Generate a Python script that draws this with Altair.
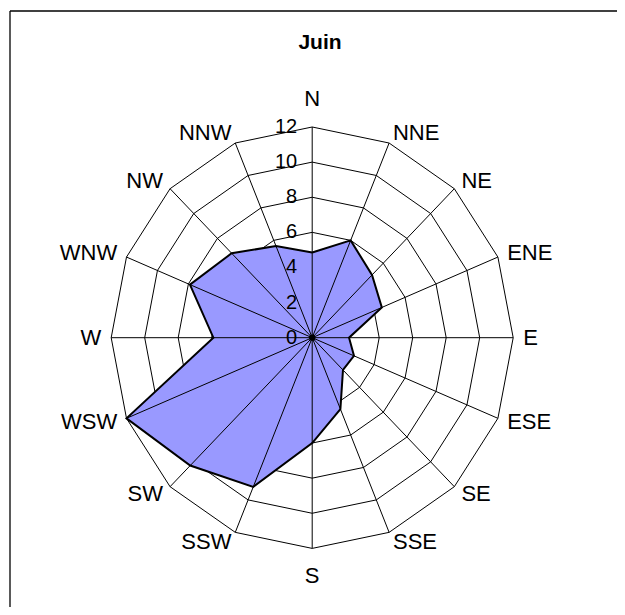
import altair as alt
import pandas as pd

# ---- data ----
directions = ["N", "NNE", "NE", "ENE", "E", "ESE", "SE", "SSE",
              "S", "SSW", "SW", "WSW", "W", "WNW", "NW", "NNW"]
values = [4.85, 6.0, 5.05, 4.5, 2.2, 2.7, 2.6, 4.4,
          6.0, 9.2, 10.3, 12.0, 5.9, 7.9, 6.8, 5.65]
ring_levels = [2, 4, 6, 8, 10, 12]
tick_values = [0, 2, 4, 6, 8, 10, 12]
tick_labels = ["0", "2", "4", "6", "8", "10", "12"]
title_text = "Juin"

FONT = "Liberation Sans"
n = len(directions)
rmax = max(ring_levels)

poly_df = pd.DataFrame({"i": list(range(n + 1)),
                        "r": [values[k % n] for k in range(n + 1)]})
ring_df = pd.DataFrame([{"level": lv, "i": k} for lv in ring_levels for k in range(n + 1)])
spoke_df = pd.DataFrame({"i": list(range(n)), "dir": directions})
tick_df = pd.DataFrame({"v": tick_values, "lab": tick_labels})

xs = alt.Scale(domain=[-18.161, 18.197], nice=False, zero=False)
ys = alt.Scale(domain=[-15.338, 18.777], nice=False, zero=False)
TH = "datum.i * PI / 8"

rings = alt.Chart(ring_df).transform_calculate(
    x=f"datum.level * sin({TH})", y=f"datum.level * cos({TH})"
).mark_line(color="black", strokeWidth=1).encode(
    x=alt.X("x:Q", scale=xs, axis=None),
    y=alt.Y("y:Q", scale=ys, axis=None),
    detail="level:N",
    order="i:Q",
)

poly_base = alt.Chart(poly_df).transform_calculate(
    x=f"datum.r * sin({TH})", y=f"datum.r * cos({TH})"
)
poly_fill = poly_base.mark_line(fill="#9999FF", stroke=None, strokeWidth=0).encode(
    x=alt.X("x:Q", scale=xs, axis=None),
    y=alt.Y("y:Q", scale=ys, axis=None),
    order="i:Q",
)
poly_line = poly_base.mark_line(color="black", strokeWidth=2).encode(
    x=alt.X("x:Q", scale=xs, axis=None),
    y=alt.Y("y:Q", scale=ys, axis=None),
    order="i:Q",
)

spokes = alt.Chart(spoke_df).transform_calculate(
    x0="0", y0="0",
    x=f"{rmax} * sin({TH})", y=f"{rmax} * cos({TH})"
).mark_rule(color="black", strokeWidth=1).encode(
    x=alt.X("x0:Q", scale=xs, axis=None),
    y=alt.Y("y0:Q", scale=ys, axis=None),
    x2="x:Q", y2="y:Q",
)

center = alt.Chart(pd.DataFrame({"x": [0], "y": [0]})).mark_point(
    filled=True, color="black", size=40, opacity=1
).encode(
    x=alt.X("x:Q", scale=xs, axis=None),
    y=alt.Y("y:Q", scale=ys, axis=None),
)

lab_base = alt.Chart(spoke_df).transform_calculate(
    s=f"sin({TH})", c=f"cos({TH})"
)
lab_r = rmax + 0.6
lab_left = lab_base.transform_filter("datum.s > 0.1").transform_calculate(
    x=f"{lab_r} * datum.s", y=f"{lab_r} * datum.c"
).mark_text(align="left", baseline="middle", font=FONT, fontSize=22, color="black").encode(
    x=alt.X("x:Q", scale=xs, axis=None),
    y=alt.Y("y:Q", scale=ys, axis=None),
    text="dir:N",
)
lab_right = lab_base.transform_filter("datum.s < -0.1").transform_calculate(
    x=f"{lab_r} * datum.s", y=f"{lab_r} * datum.c"
).mark_text(align="right", baseline="middle", font=FONT, fontSize=22, color="black").encode(
    x=alt.X("x:Q", scale=xs, axis=None),
    y=alt.Y("y:Q", scale=ys, axis=None),
    text="dir:N",
)
lab_mid = lab_base.transform_filter("abs(datum.s) <= 0.1").transform_calculate(
    x="0", y=f"{rmax + 1.6} * datum.c"
).mark_text(align="center", baseline="middle", font=FONT, fontSize=22, color="black").encode(
    x=alt.X("x:Q", scale=xs, axis=None),
    y=alt.Y("y:Q", scale=ys, axis=None),
    text="dir:N",
)

ticks = alt.Chart(tick_df).transform_calculate(x="0").mark_text(
    align="right", baseline="middle", dx=-15, font=FONT, fontSize=20, color="black"
).encode(
    x=alt.X("x:Q", scale=xs, axis=None),
    y=alt.Y("v:Q", scale=ys, axis=None),
    text="lab:N",
)

title = alt.Chart(pd.DataFrame({"t": [title_text]})).mark_text(
    font=FONT, fontSize=21, fontWeight="bold", color="black", baseline="middle"
).encode(x=alt.value(312), y=alt.value(34.5), text="t:N")

frame_top = alt.Chart(pd.DataFrame({"a": [0]})).mark_rule(color="black", strokeWidth=1.3).encode(
    x=alt.value(2), x2=alt.value(609), y=alt.value(3))
frame_left = alt.Chart(pd.DataFrame({"a": [0]})).mark_rule(color="black", strokeWidth=1.3).encode(
    x=alt.value(2), y=alt.value(3), y2=alt.value(599))

chart = alt.layer(
    frame_top, frame_left, rings, poly_fill, spokes, poly_line, center,
    lab_left, lab_right, lab_mid, ticks, title
).properties(
    width=609, height=599, autosize=alt.AutoSizeParams(type="none"), padding=0
).configure_view(stroke=None)

chart.save("out.html", embed_options={"renderer": "svg", "actions": False})
